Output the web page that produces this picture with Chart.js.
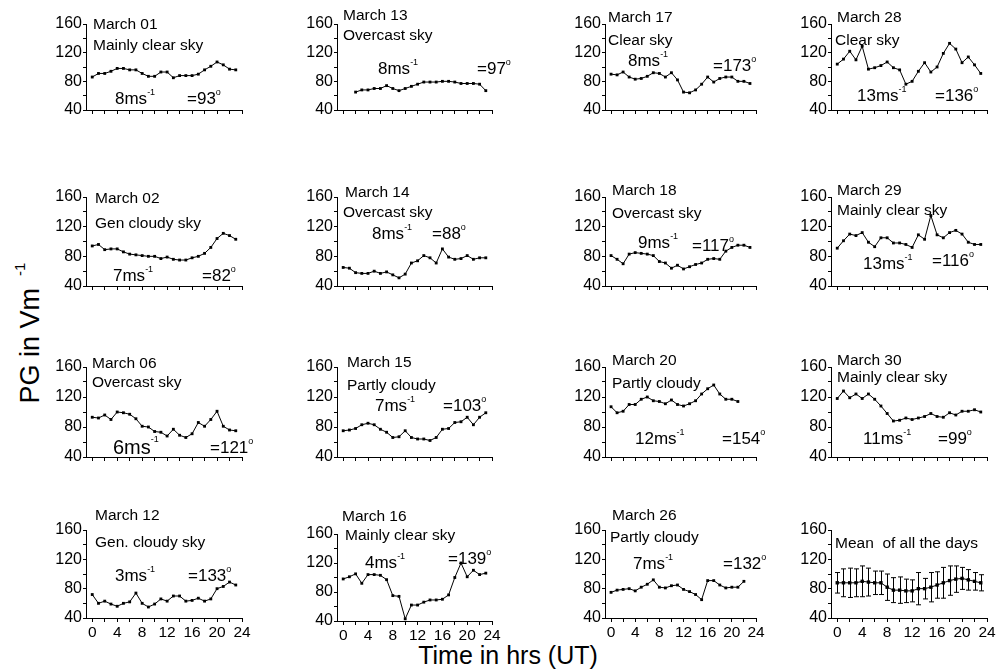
<!DOCTYPE html>
<html>
<head>
<meta charset="utf-8">
<script src="https://cdn.jsdelivr.net/npm/chart.js@4"></script>
<style>
  body { margin: 0; background: #fff; width: 1006px; height: 671px; position: relative; overflow: hidden;
         font-family: "Liberation Sans", Arial, sans-serif; color: #000; }
  canvas { position: absolute; }
  .t { position: absolute; white-space: pre; font-size: 15.5px; line-height: 1; transform: translateY(-50%); }
  .big { font-size: 17px; }
  .six { font-size: 20px; }
  .t sup { font-size: 9px; vertical-align: top; position: relative; top: -2px; }
  #ytitle { position: absolute; left: 30px; top: 333px; font-size: 27px; white-space: nowrap;
            transform: translate(-50%, -50%) rotate(-90deg); }
  #ytitle sup { font-size: 15px; vertical-align: top; position: relative; top: -4px; margin-left: 12px; }
  #xtitle { position: absolute; left: 508px; top: 655px; font-size: 25px; white-space: nowrap;
            transform: translate(-50%, -50%); }
</style>
</head>
<body>
<div id="ytitle">PG in Vm<sup>-1</sup></div>
<div id="xtitle">Time in hrs (UT)</div>
<script>
// PG (V/m) hourly values
const mar01 = [86, 91, 91, 94, 98, 98, 96, 96, 91, 87, 87, 93, 93, 85, 88, 88, 88, 90, 96, 101, 107, 103, 97, 96];
const mar13 = [65, 68, 68, 70, 70, 74, 70, 67, 70, 73, 76, 79, 79, 79, 80, 80, 79, 77, 77, 77, 76, 67];
const mar17 = [90, 89, 93, 86, 83, 84, 87, 92, 91, 86, 92, 82, 65, 64, 68, 76, 86, 79, 84, 86, 86, 80, 80, 77];
const mar28 = [104, 111, 122, 110, 129, 97, 99, 102, 107, 99, 96, 76, 80, 94, 106, 93, 100, 119, 133, 125, 106, 114, 103, 91];
const mar02 = [94, 96, 89, 90, 90, 86, 83, 82, 81, 80, 80, 77, 79, 76, 75, 75, 78, 80, 84, 92, 104, 111, 108, 103];
const mar14 = [65, 64, 58, 57, 57, 60, 57, 59, 55, 51, 56, 71, 74, 81, 78, 71, 90, 79, 76, 77, 81, 76, 78, 78];
const mar18 = [81, 76, 70, 83, 85, 84, 83, 81, 73, 71, 64, 68, 63, 66, 69, 71, 76, 77, 76, 87, 92, 95, 95, 92];
const mar29 = [91, 101, 110, 108, 112, 99, 93, 105, 105, 98, 98, 96, 92, 109, 103, 135, 109, 105, 112, 115, 110, 99, 96, 96];
const mar06 = [93, 92, 96, 90, 100, 99, 97, 91, 81, 80, 74, 73, 68, 77, 69, 66, 71, 86, 81, 90, 101, 81, 76, 75];
const mar15 = [75, 76, 78, 83, 85, 83, 77, 73, 66, 67, 75, 66, 64, 64, 62, 66, 77, 78, 86, 87, 93, 83, 93, 99];
const mar20 = [107, 99, 101, 110, 110, 117, 120, 115, 114, 111, 116, 110, 108, 111, 115, 124, 131, 136, 124, 117, 117, 114];
const mar30 = [118, 128, 119, 124, 118, 124, 117, 108, 98, 88, 89, 92, 90, 92, 94, 98, 94, 93, 99, 96, 101, 101, 103, 100];
const mar12 = [72, 60, 63, 59, 56, 60, 62, 74, 60, 55, 59, 66, 63, 70, 70, 63, 64, 67, 63, 66, 80, 83, 89, 85];
const mar16 = [98, 101, 105, 92, 104, 104, 103, 97, 75, 74, 43, 62, 62, 66, 69, 69, 70, 76, 100, 120, 101, 110, 104, 106];
const mar26 = [75, 78, 79, 80, 77, 82, 86, 92, 82, 81, 84, 85, 79, 76, 72, 65, 91, 91, 85, 81, 82, 82, 90];
const meanPG = [88, 88, 88, 88, 90, 89, 88, 88, 82, 78, 78, 77, 77, 80, 80, 82, 85, 88, 91, 93, 94, 92, 90, 88];
const meanErr = [14, 19, 20, 19, 21, 19, 16, 16, 18, 17, 18, 16, 15, 22, 14, 20, 18, 21, 20, 18, 15, 14, 12, 11];

// panels in grid order (row by row)
const series = [mar01, mar13, mar17, mar28, mar02, mar14, mar18, mar29,
                mar06, mar15, mar20, mar30, mar12, mar16, mar26, meanPG];
const startHour = [0, 2, 0, 0, 0, 0, 0, 0, 0, 0, 0, 0, 0, 0, 0, 0];
const days = ["March 01", "March 13", "March 17", "March 28", "March 02", "March 14", "March 18", "March 29",
              "March 06", "March 15", "March 20", "March 30", "March 12", "March 16", "March 26", ""];
const skies = ["Mainly clear sky", "Overcast sky", "Clear sky", "Clear sky",
               "Gen cloudy sky", "Overcast sky", "Overcast sky", "Mainly clear sky",
               "Overcast sky", "Partly cloudy", "Partly cloudy", "Mainly clear sky",
               "Gen. cloudy sky", "Mainly clear sky", "Partly cloudy", "Mean  of all the days"];
const winds = [8, 8, 8, 13, 7, 8, 9, 13, 6, 7, 12, 11, 3, 4, 7, null];
const dirs = [93, 97, 173, 136, 82, 88, 117, 116, 121, 103, 154, 99, 133, 139, 132, null];
const xTicks = [0, 2, 4, 6, 8, 10, 12, 14, 16, 18, 20, 22, 24];
const yTicks = [40, 60, 80, 100, 120, 140, 160];

// layout (pixels)
const colAxis = [86, 337, 605, 831];
const colRight = [242, 492, 756, 987];
const rowTop = [24, 197, 367, 530];
const rowBottom = [110, 286, 457, 618];
// text anchors: title, sky, wind, direction  (left x, centre y)
const textPos = [
  [93, 24, 93, 45, 115, 98, 187, 98],
  [343, 15, 343, 35, 378, 68, 477, 68],
  [608, 17, 608, 40, 628, 60, 713, 65],
  [837, 17, 835, 40, 857, 95, 935, 95],
  [95, 198, 95, 223, 113, 275, 202, 275],
  [345, 192, 343, 212, 372, 233, 432, 233],
  [612, 190, 612, 213, 638, 242, 692, 245],
  [837, 190, 837, 210, 863, 263, 932, 260],
  [92, 363, 92, 382, 113, 447, 210, 447],
  [347, 362, 347, 385, 375, 405, 443, 405],
  [612, 360, 612, 383, 635, 438, 722, 438],
  [837, 360, 837, 377, 863, 438, 938, 438],
  [95, 515, 95, 542, 115, 575, 188, 575],
  [342, 516, 345, 535, 365, 562, 448, 558],
  [612, 515, 610, 537, 633, 563, 723, 563],
  [0, 0, 835, 543, 0, 0, 0, 0]
];

const FONT = "'Liberation Sans', Arial, sans-serif";

function addText(html, x, y, cls) {
  const d = document.createElement("div");
  d.className = "t" + (cls ? " " + cls : "");
  d.style.left = x + "px";
  d.style.top = y + "px";
  d.innerHTML = html;
  document.body.appendChild(d);
}

// error bars for the mean panel
const errorBars = {
  id: "errorBars",
  afterDatasetsDraw(chart) {
    const { ctx, scales: { x, y } } = chart;
    ctx.save();
    ctx.strokeStyle = "#000";
    ctx.lineWidth = 1;
    meanErr.forEach((e, k) => {
      const px = Math.round(x.getPixelForValue(k)) + 0.5;
      const y1 = y.getPixelForValue(meanPG[k] + e);
      const y2 = y.getPixelForValue(meanPG[k] - e);
      ctx.beginPath();
      ctx.moveTo(px, y1); ctx.lineTo(px, y2);
      ctx.moveTo(px - 2.5, y1); ctx.lineTo(px + 2.5, y1);
      ctx.moveTo(px - 2.5, y2); ctx.lineTo(px + 2.5, y2);
      ctx.stroke();
    });
    ctx.restore();
  }
};

function makePanel(i) {
  const r = Math.floor(i / 4), c = i % 4;
  let top = rowTop[r], bottom = rowBottom[r];
  if (i === 13) { top += 4; bottom += 3; }
  const left = colAxis[c], right = colRight[c];
  const yw = 46, padTop = 12, xh = 24, padRight = 14;
  const w = yw + (right - left) + padRight;
  const h = padTop + (bottom - top) + xh;

  const cv = document.createElement("canvas");
  cv.width = w; cv.height = h;
  cv.style.left = (left - yw) + "px";
  cv.style.top = (top - padTop) + "px";
  cv.style.width = w + "px";
  cv.style.height = h + "px";
  document.body.appendChild(cv);

  const pts = series[i].map((v, k) => ({ x: startHour[i] + k, y: v }));
  const bottomRow = r === 3;
  const isMean = i === 15;

  new Chart(cv, {
    type: "line",
    data: {
      datasets: [{
        data: pts,
        borderColor: "#000",
        borderWidth: 1,
        pointStyle: "rect",
        pointRadius: isMean ? 2.4 : 2,
        pointBorderWidth: 0,
        pointBackgroundColor: "#000",
        tension: 0
      }]
    },
    options: {
      responsive: false,
      devicePixelRatio: 1,
      animation: false,
      layout: { padding: { top: padTop, right: padRight, left: 0, bottom: 0 } },
      plugins: { legend: { display: false }, tooltip: { enabled: false } },
      scales: {
        x: {
          type: "linear",
          min: -1,
          max: 24,
          afterBuildTicks: (s) => { s.ticks = xTicks.map((v) => ({ value: v })); },
          afterFit: (s) => { s.height = xh; },
          ticks: {
            autoSkip: false,
            maxRotation: 0,
            padding: 1,
            color: "#000",
            font: { family: FONT, size: 15.5 },
            callback: (v) => (bottomRow && v % 4 === 0 ? v : "")
          },
          grid: { drawOnChartArea: false, tickLength: 4, tickColor: "#000" },
          border: { color: "#000", width: 1 }
        },
        y: {
          min: 40,
          max: 160,
          afterBuildTicks: (s) => { s.ticks = yTicks.map((v) => ({ value: v })); },
          afterFit: (s) => { s.width = yw; },
          ticks: {
            autoSkip: false,
            padding: 1,
            color: "#000",
            font: { family: FONT, size: 16 },
            callback: (v) => (v % 40 === 0 ? v : "")
          },
          grid: { drawOnChartArea: false, tickLength: 3, tickColor: "#000" },
          border: { color: "#000", width: 1 }
        }
      }
    },
    plugins: isMean ? [errorBars] : []
  });

  const p = textPos[i];
  if (days[i]) addText(days[i], p[0], p[1]);
  addText(skies[i], p[2], p[3]);
  if (winds[i] !== null) {
    addText(winds[i] + "ms<sup>-1</sup>", p[4], p[5], i === 8 ? "big six" : "big");
    addText("=" + dirs[i] + "<sup>o</sup>", p[6], p[7], "big");
  }
}

for (let i = 0; i < series.length; i++) makePanel(i);
</script>
</body>
</html>
